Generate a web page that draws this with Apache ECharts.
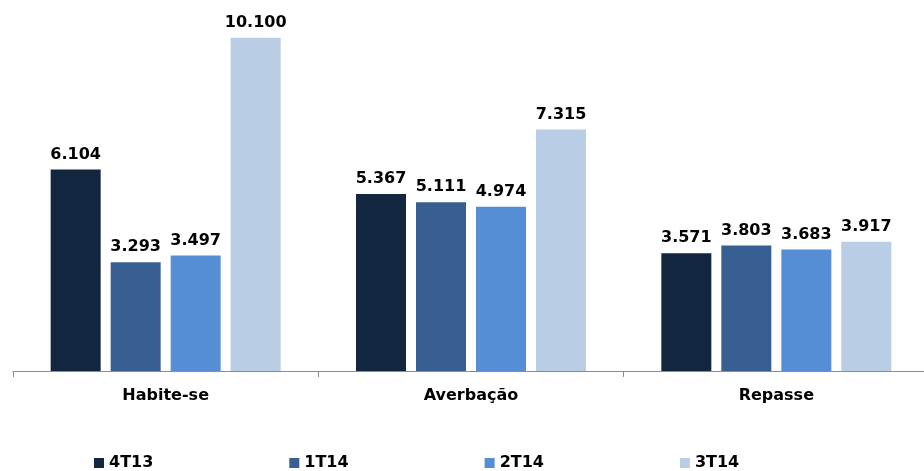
<!DOCTYPE html>
<html>
<head>
<meta charset="utf-8">
<script src="https://cdn.jsdelivr.net/npm/echarts@6/dist/echarts.min.js"></script>
<style>
  html, body { margin: 0; padding: 0; background: #fff; }
  #chart { width: 924px; height: 471px; }
</style>
</head>
<body>
<div id="chart"></div>
<script>
// categorias e séries
const categories = ['Habite-se', 'Averbação', 'Repasse']
const seriesNames = ['4T13', '1T14', '2T14', '3T14']
const s4T13 = [6104, 5367, 3571]
const s1T14 = [3293, 5111, 3803]
const s2T14 = [3497, 4974, 3683]
const s3T14 = [10100, 7315, 3917]
const colors = ['#132640', '#375f92', '#558ed5', '#b9cde5']

const font = 'DejaVu Sans'

// 6104 -> "6.104"
const fmt = v => String(v).replace(/\B(?=(\d{3})+(?!\d))/g, '.')

const chart = echarts.init(document.getElementById('chart'))

const makeSeries = (name, data, i) => ({
  name,
  type: 'bar',
  data,
  barWidth: 50,
  barGap: '20%',
  itemStyle: { color: colors[i] },
  label: {
    show: true,
    position: 'top',
    distance: 7,
    fontFamily: font,
    fontWeight: 'bold',
    fontSize: 16,
    color: '#000',
    formatter: p => fmt(p.value)
  }
})

chart.setOption({
  animation: false,
  // o eixo passa da borda direita, por isso sem limites externos
  grid: { left: 13, top: 8, width: 916, bottom: 100, containLabel: false, outerBoundsMode: 'none' },
  legend: {
    data: seriesNames,
    left: 94,
    top: 455,
    padding: 0,
    itemWidth: 10,
    itemHeight: 10,
    itemGap: 136,
    icon: 'rect',
    textStyle: { fontFamily: font, fontWeight: 'bold', fontSize: 16, color: '#000' }
  },
  xAxis: {
    type: 'category',
    data: categories,
    axisLine: { lineStyle: { color: '#8c8c8c', width: 1 } },
    axisTick: { show: true, length: 6, lineStyle: { color: '#8c8c8c' } },
    axisLabel: { fontFamily: font, fontWeight: 'bold', fontSize: 16, color: '#000', margin: 17 }
  },
  yAxis: {
    type: 'value',
    min: 0,
    max: 11000,
    show: false,
    splitLine: { show: false }
  },
  series: [
    makeSeries(seriesNames[0], s4T13, 0),
    makeSeries(seriesNames[1], s1T14, 1),
    makeSeries(seriesNames[2], s2T14, 2),
    makeSeries(seriesNames[3], s3T14, 3)
  ]
})
</script>
</body>
</html>
